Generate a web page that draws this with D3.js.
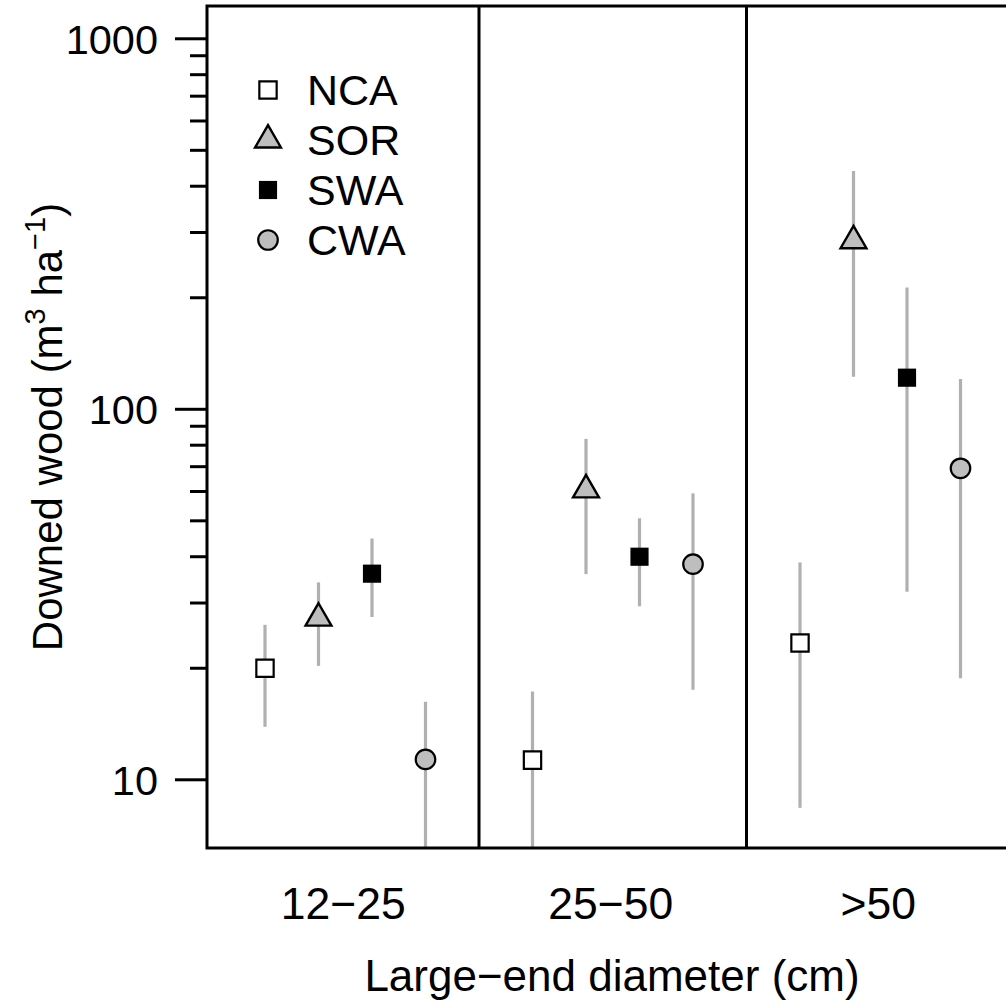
<!DOCTYPE html>
<html>
<head>
<meta charset="utf-8">
<script src="https://cdn.jsdelivr.net/npm/d3@7"></script>
<style>
  body { margin: 0; background: #fff; }
  text { font-family: "Liberation Sans", Arial, sans-serif; fill: #000; }
</style>
</head>
<body>
<div id="chart"></div>
<script>
var categories = ["12\u221225", "25\u221250", ">50"]
var seriesNames = ["NCA", "SOR", "SWA", "CWA"]
var seriesOffsets = [-0.3, -0.1, 0.1, 0.3]

// mean, lower and upper values per series (one per category)
var ncaMean = [20.0, 11.3, 23.4], ncaLow = [13.9, 4.0, 8.4], ncaHigh = [26.2, 17.3, 38.6]
var sorMean = [27.3, 60.6, 285], sorLow = [20.3, 35.9, 122.5], sorHigh = [34.1, 83.2, 440]
var swaMean = [36.0, 40.0, 121.7], swaLow = [27.5, 29.4, 32.2], swaHigh = [44.8, 50.8, 213]
var cwaMean = [11.35, 38.2, 69.3], cwaLow = [5.0, 17.5, 18.8], cwaHigh = [16.25, 59.3, 120.7]

var yMajorTicks = [10, 100, 1000]
var yMinorTicks = [20, 30, 40, 50, 60, 70, 80, 90, 200, 300, 400, 500, 600, 700, 800, 900]

var width = 1006, height = 1005
var plotLeft = 207, plotTop = 6, plotBottom = 848, plotRight = 1014

var svg = d3.select("#chart").append("svg")
    .attr("width", width)
    .attr("height", height)

var xScale = d3.scaleLinear().domain([0.5, 3.5]).range([211.5, 1014])
var yScale = d3.scaleLog().domain([6.545, 1226]).range([plotBottom, plotTop])

var styles = {
    NCA: {shape: d3.symbolSquare, size: 300, fill: "#fff", stroke: "#000", sw: 2.2},
    SOR: {shape: d3.symbolTriangle, size: 290, fill: "#bebebe", stroke: "#000", sw: 2.4},
    SWA: {shape: d3.symbolSquare, size: 330, fill: "#000", stroke: "none", sw: 0},
    CWA: {shape: d3.symbolCircle, size: 300, fill: "#bebebe", stroke: "#000", sw: 2.2}
}

var means = [ncaMean, sorMean, swaMean, cwaMean]
var lows = [ncaLow, sorLow, swaLow, cwaLow]
var highs = [ncaHigh, sorHigh, swaHigh, cwaHigh]

var points = []
seriesNames.forEach(function(s, i) {
    categories.forEach(function(c, j) {
        points.push({series: s, x: j + 1 + seriesOffsets[i], mean: means[i][j], low: lows[i][j], high: highs[i][j]})
    })
})

svg.append("clipPath").attr("id", "plotclip")
    .append("rect")
    .attr("x", plotLeft).attr("y", plotTop)
    .attr("width", plotRight - plotLeft).attr("height", plotBottom - plotTop)

var plot = svg.append("g").attr("clip-path", "url(#plotclip)")

// error bars
plot.selectAll(".err")
    .data(points)
    .enter()
    .append("line")
    .attr("class", "err")
    .attr("x1", function(d) { return xScale(d.x) })
    .attr("x2", function(d) { return xScale(d.x) })
    .attr("y1", function(d) { return yScale(d.low) })
    .attr("y2", function(d) { return yScale(d.high) })
    .style("stroke", "#b0b0b0")
    .style("stroke-width", 3.2)

// points
plot.selectAll(".pt")
    .data(points)
    .enter()
    .append("path")
    .attr("class", "pt")
    .attr("transform", function(d) { return "translate(" + xScale(d.x) + "," + yScale(d.mean) + ")" })
    .attr("d", function(d) { return d3.symbol().type(styles[d.series].shape).size(styles[d.series].size)() })
    .style("fill", function(d) { return styles[d.series].fill })
    .style("stroke", function(d) { return styles[d.series].stroke })
    .style("stroke-width", function(d) { return styles[d.series].sw })

// panel dividers
;[1.5, 2.5].forEach(function(v) {
    svg.append("line")
        .attr("x1", xScale(v)).attr("x2", xScale(v))
        .attr("y1", plotTop).attr("y2", plotBottom)
        .style("stroke", "#000").style("stroke-width", 3)
})

// frame
svg.append("path")
    .attr("d", "M" + plotRight + "," + plotTop + "H" + plotLeft + "V" + plotBottom + "H" + plotRight)
    .style("fill", "none").style("stroke", "#000").style("stroke-width", 3)

// y axis ticks
svg.selectAll(".ymaj")
    .data(yMajorTicks)
    .enter()
    .append("line")
    .attr("x1", 175).attr("x2", plotLeft)
    .attr("y1", function(d) { return yScale(d) })
    .attr("y2", function(d) { return yScale(d) })
    .style("stroke", "#000").style("stroke-width", 3)

svg.selectAll(".ymin")
    .data(yMinorTicks)
    .enter()
    .append("line")
    .attr("x1", 190).attr("x2", plotLeft)
    .attr("y1", function(d) { return yScale(d) })
    .attr("y2", function(d) { return yScale(d) })
    .style("stroke", "#000").style("stroke-width", 3)

svg.selectAll(".ylab")
    .data(yMajorTicks)
    .enter()
    .append("text")
    .attr("x", 158)
    .attr("y", function(d) { return yScale(d) })
    .attr("dy", "0.36em")
    .attr("text-anchor", "end")
    .attr("font-size", "41.5px")
    .text(function(d) { return d })

// category labels
svg.selectAll(".xlab")
    .data(categories)
    .enter()
    .append("text")
    .attr("x", function(d, i) { return xScale(i + 1) - 2 })
    .attr("y", 919)
    .attr("text-anchor", "middle")
    .attr("font-size", "44.5px")
    .text(function(d) { return d })

// axis titles
svg.append("text")
    .attr("x", 612)
    .attr("y", 991)
    .attr("text-anchor", "middle")
    .attr("font-size", "44px")
    .text("Large\u2212end diameter (cm)")

var ytitle = svg.append("text")
    .attr("transform", "translate(62,427) rotate(-90)")
    .attr("text-anchor", "middle")
    .attr("font-size", "42px")
ytitle.append("tspan").text("Downed wood (m")
ytitle.append("tspan").attr("dy", -17).attr("font-size", "29px").text("3")
ytitle.append("tspan").attr("dy", 17).text(" ha")
ytitle.append("tspan").attr("dy", -17).attr("font-size", "29px").text("\u22121")
ytitle.append("tspan").attr("dy", 17).text(")")

// legend
var legend = svg.append("g")
legend.selectAll(".lsym")
    .data(seriesNames)
    .enter()
    .append("path")
    .attr("transform", function(d, i) { return "translate(268," + (90 + i * 50) + ")" })
    .attr("d", function(d) { return d3.symbol().type(styles[d].shape).size(styles[d].size)() })
    .style("fill", function(d) { return styles[d].fill })
    .style("stroke", function(d) { return styles[d].stroke })
    .style("stroke-width", function(d) { return styles[d].sw })

legend.selectAll(".ltxt")
    .data(seriesNames)
    .enter()
    .append("text")
    .attr("x", 307)
    .attr("y", function(d, i) { return 90 + i * 50 })
    .attr("dy", "0.36em")
    .attr("font-size", "43px")
    .text(function(d) { return d })
</script>
</body>
</html>
